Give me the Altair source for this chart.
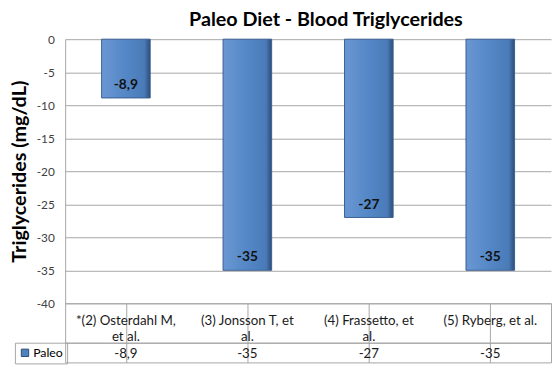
import altair as alt
import pandas as pd

categories = ["*(2) Osterdahl M, et al.", "(3) Jonsson T, et al.", "(4) Frassetto, et al.", "(5) Ryberg, et al."]
header_text = ["*(2) Osterdahl M,\net al.", "(3) Jonsson T, et\nal.", "(4) Frassetto, et\nal.", "(5) Ryberg, et al."]
values = [-8.9, -35, -27, -35]
value_labels = ["-8,9", "-35", "-27", "-35"]
series = ["Paleo", "Paleo", "Paleo", "Paleo"]
y_ticks = [0, -5, -10, -15, -20, -25, -30, -35, -40]

df = pd.DataFrame({"cat": categories, "hdr": header_text, "val": values,
                   "lab": value_labels, "series": series})

FONT = "Lato"
GRID = "#a6a6a6"
PW = 493

xs_top = alt.Scale(domain=categories, paddingInner=0.6, paddingOuter=0.3)
xs_tab = alt.Scale(domain=categories, paddingInner=0, paddingOuter=0)
ys = alt.Scale(domain=[-40, 0], nice=False)

yaxis = alt.Axis(values=y_ticks, title="Triglycerides (mg/dL)",
                 titleFont=FONT, titleFontSize=20, titleFontWeight="bold",
                 titleColor="#000000", titlePadding=7,
                 labelFont=FONT, labelFontSize=12, labelColor="#404040",
                 labelExpr="'' + datum.value", labelPadding=11, labelOverlap=False,
                 ticks=False, domain=True, domainColor=GRID,
                 grid=True, gridColor=GRID)

gradient = alt.Gradient(
    gradient="linear", x1=0, x2=1, y1=0, y2=0,
    stops=[alt.GradientStop(color="#6a97d3", offset=0),
           alt.GradientStop(color="#5487c6", offset=0.5),
           alt.GradientStop(color="#4a7bb8", offset=0.88),
           alt.GradientStop(color="#2c4d78", offset=1)])

base = alt.Chart(df)

bars = base.mark_bar(fill=gradient, stroke="#3b6090", strokeWidth=1).encode(
    x=alt.X("cat:N", scale=xs_top, axis=None, sort=categories),
    y=alt.Y("val:Q", scale=ys, axis=yaxis),
    color=alt.Color("series:N", scale=alt.Scale(range=["#4f81bd"]),
                    legend=alt.Legend(title=None, orient="none", legendX=-51, legendY=308,
                                      symbolType="square", symbolSize=56,
                                      symbolFillColor="#4f81bd", symbolStrokeColor="#2c4d78",
                                      symbolStrokeWidth=1, labelFont=FONT, labelFontSize=12.5,
                                      labelColor="#000000", padding=4, strokeColor=GRID,
                                      labelOffset=2)),
)

labels = base.mark_text(font=FONT, fontSize=14, fontWeight="bold", color="#111111",
                        baseline="middle", dy=-13).encode(
    x=alt.X("cat:N", scale=xs_top, sort=categories, axis=None),
    y=alt.Y("val:Q", scale=ys, axis=yaxis),
    text="lab:N",
)

top = alt.layer(bars, labels).properties(
    width=PW, height=268, view=alt.ViewBackground(strokeWidth=0))

header = base.mark_text(font=FONT, fontSize=13.5, color="#1a1a1a", lineBreak="\n",
                        baseline="middle", lineHeight=16, dy=-2).encode(
    x=alt.X("cat:N", scale=xs_tab, sort=categories,
            axis=alt.Axis(title=None, labels=False, ticks=False, domain=False,
                          grid=True, gridColor=GRID, bandPosition=0)),
    text="hdr:N",
).properties(width=PW, height=40, view=alt.ViewBackground(stroke=GRID))

row = base.mark_text(font=FONT, fontSize=13.5, color="#1a1a1a", baseline="middle", dy=1).encode(
    x=alt.X("cat:N", scale=xs_tab, sort=categories,
            axis=alt.Axis(title=None, labels=False, ticks=False, domain=False,
                          grid=True, gridColor=GRID, bandPosition=0)),
    text="lab:N",
).properties(width=PW, height=20, view=alt.ViewBackground(stroke=GRID))

chart = alt.vconcat(top, header, row, spacing=0, bounds="flush").resolve_scale(x="independent").properties(
    title=alt.TitleParams("Paleo Diet - Blood Triglycerides", font=FONT, fontSize=20,
                          fontWeight="bold", color="#000000", anchor="middle", dx=46, offset=3),
    padding={"left": 1, "top": 0, "right": 0, "bottom": 0},
)

chart.save("out.html", embed_options={"renderer": "svg", "actions": False})
